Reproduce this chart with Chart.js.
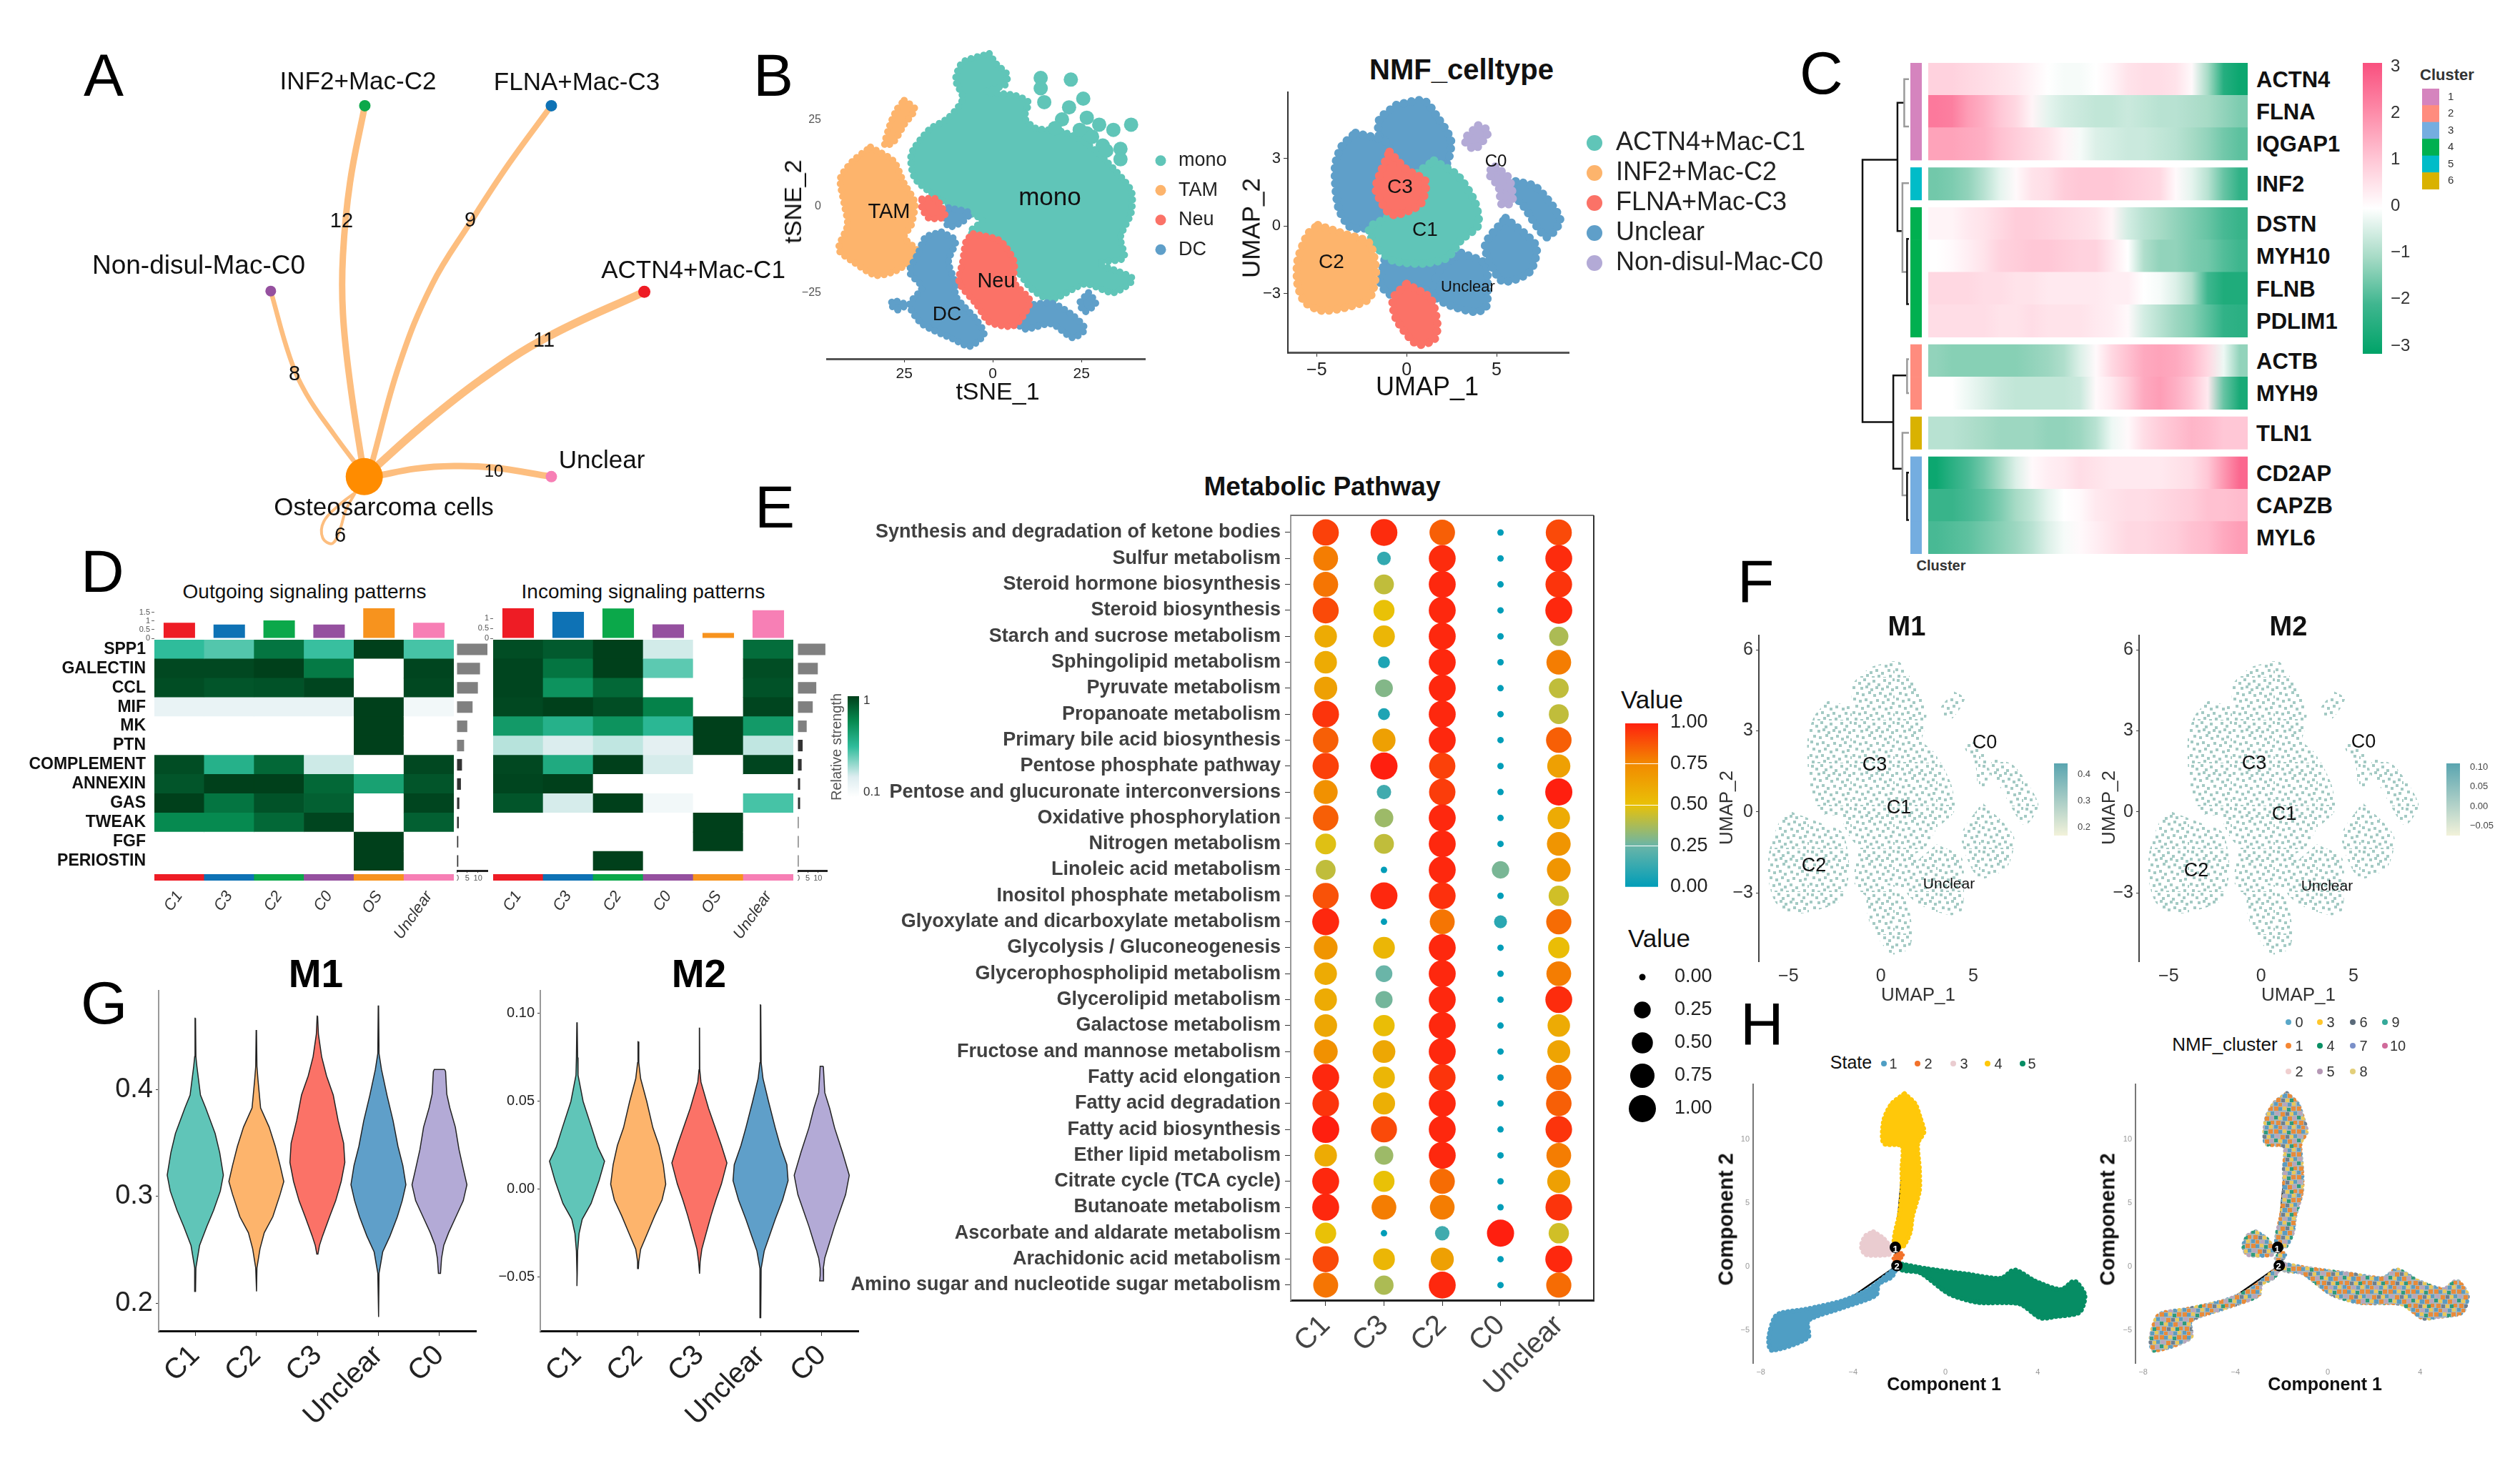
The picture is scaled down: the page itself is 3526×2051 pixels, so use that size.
<!DOCTYPE html>
<html>
<head>
<meta charset="utf-8">
<title>Macrophage panels</title>
<script src="https://cdn.jsdelivr.net/npm/chart.js@4/dist/chart.umd.min.js"></script>
<style>
html, body { margin: 0; background: #fff; }
#page { position: relative; width: 3526px; height: 2051px; overflow: hidden; background: #fff; }
</style>
</head>
<body>
<div id="page"></div>
<script>
// ---------- data : panel A (network layout units)
const nodeNames = ['Osteosarcoma cells', 'INF2+Mac-C2', 'FLNA+Mac-C3', 'Non-disul-Mac-C0', 'ACTN4+Mac-C1', 'Unclear'];
const nodeX = [666, 667, 1008, 495, 1178, 1008];
const nodeY = [1307, 290, 290, 798, 800, 1307];
const nodeSize = [26, 8, 8, 7.5, 8.5, 8];
const nodeColors = ['#FF8C00', '#0BA84A', '#0E72B5', '#95509F', '#EE1C25', '#F77FB5'];
const edgeCounts = [12, 9, 8, 11, 10, 6];
const edgeInf2X = [667, 640, 627, 627, 640, 666];
const edgeInf2Y = [290, 500, 700, 860, 1050, 1307];
const edgeFlnaX = [1008, 930, 860, 790, 730, 680];
const edgeFlnaY = [290, 450, 610, 780, 1000, 1270];
const edgeNonX = [495, 530, 560, 610, 660];
const edgeNonY = [798, 980, 1080, 1190, 1290];
const edgeActnX = [1178, 1000, 880, 770, 680];
const edgeActnY = [800, 925, 1040, 1170, 1290];
const edgeUnclearX = [1008, 900, 830, 760, 690];
const edgeUnclearY = [1307, 1282, 1278, 1285, 1305];
const edgeSelfX = [650, 632, 622, 608, 590, 592, 620, 650];
const edgeSelfY = [1350, 1400, 1450, 1490, 1475, 1430, 1385, 1350];

// ---------- data : panel B tSNE outlines
const monoX = [-1, 1, 4, 3.5, -2, 6, 10, 9, 12, 19.5, 26, 32, 39, 39, 36, 37, 30, 39.5, 34, 26, 16.5, 11, 6, -3, -6.5, -3, -10.5, -15, -22, -23, -18, -12.5, -8.5, -10.5, -8.5];
const monoY = [44, 41, 38, 35, 33, 32, 30, 25.5, 22.5, 21.5, 18.5, 13, 4.5, -2, -9, -15, -16.5, -21, -25, -22.5, -27, -24, -17.5, -9, -7.5, -4, -0.5, 2, 8, 15, 22, 25.5, 31, 36.5, 41.5];
const monoIslandX = [13.5, 22, 13.5, 14.5, 25.5, 21.5, 26.5, 30, 39, 34, 26.5, 31, 36, 36, 24.5, 19.5, 17.5, 28, 32];
const monoIslandY = [37, 36.5, 34, 30, 31, 28.5, 25.5, 23.5, 23.5, 22, 21, 17.5, 16.5, 13.5, 22, 25, 22.5, 20, 16];
const tamX = [-34.5, -28, -25, -22, -23, -25, -21, -27, -33, -39.5, -43.5, -41, -42, -43, -39.5];
const tamY = [17, 13, 6.5, 1, -5.5, -9, -13.5, -18.5, -20, -16, -12.5, -5.5, 1, 8, 13];
const tamLobeX = [-25, -22, -25, -28, -30.5, -29, -27];
const tamLobeY = [30.5, 28, 23.5, 18.5, 17.5, 23.5, 28];
const neuX = [-5.5, 2, 6, 6, 10.5, 6, -1, -4.5, -9.5, -8.5, -7.5];
const neuY = [-8, -10, -16, -22, -27.5, -34.5, -33.5, -28.5, -22, -16, -10];
const neuSmallX = [-20, -16, -13.5, -18, -20];
const neuSmallY = [2, 2, -3, -3.5, -0.5];
const dcMainX = [-14.5, -10.5, -12.5, -10.5, -10.5, -4.5, -2.5, -6.5, -11, -20, -23.5, -20, -23.5, -21, -19];
const dcMainY = [-7.5, -10, -16, -22.5, -26, -33, -37, -40.5, -38.5, -34, -28.5, -23.5, -19, -13.5, -9];
const dcRightX = [8, 16.5, 22.5, 26, 22.5, 16.5, 9, 6];
const dcRightY = [-29, -28, -31.5, -35.5, -38, -34, -35.5, -32.5];
const dcMidX = [-12.5, -6.5, -8.5, -12.5, -13.5];
const dcMidY = [-0.5, -2, -4.5, -6, -2];
const dcSmallX = [27, 29, 26, 24.5];
const dcSmallY = [-25, -28, -30.5, -28];
const dcLeftX = [-27, -24.5, -27, -29];
const dcLeftY = [-27.5, -28.5, -30, -28];
const tsneLegend = ['mono', 'TAM', 'Neu', 'DC'];

// ---------- data : UMAP outlines (panel B and F)
const umapTopX = [-0.57, 0.95, 1.7, 2.46, 2.2, 1.2, 0.2, -0.9, -1.5, -1.52];
const umapTopY = [5.37, 5.57, 4.85, 3.81, 2.7, 2.2, 2.4, 2.9, 3.81, 4.72];
const umapLeftX = [-2.84, -1.1, -0.9, -1.2, -0.9, -1.1, -3.03, -3.79, -3.98, -3.6];
const umapLeftY = [4.13, 3.7, 2.63, 1.85, 1.07, 0.16, -0.1, 0.81, 2.63, 3.55];
const umapC3X = [-0.95, 0, 1.05, 0.75, -0.85, -1.71, -1.52];
const umapC3Y = [3.29, 2.5, 1.98, 0.95, 0.5, 1.59, 2.24];
const umapC1X = [1.52, 2.84, 3.79, 3.98, 3.03, 2.27, 0.95, -0.76, -1.71, -2.08, -0.95, -0.2, 0.4];
const umapC1Y = [2.9, 2.24, 1.07, 0.03, -0.63, -1.41, -1.67, -1.54, -0.89, -0.1, 0.45, 1.4, 2.2];
const umapC2X = [-4.93, -3.41, -2.08, -1.71, -2.08, -3.41, -4.74, -5.69, -6.06, -6.06, -5.5];
const umapC2Y = [0.03, -0.37, -0.76, -2.06, -3.23, -3.63, -3.76, -3.36, -2.58, -1.54, -0.37];
const umapLowX = [-1.14, 0, 1.52, 2.2, 1.6, 0.2, -0.76, -1.45];
const umapLowY = [-1.2, -1.2, -1.4, -2.2, -2.9, -2.7, -3.1, -2.58];
const umapLowRX = [3.03, 4.36, 4.5, 4.4, 3.79, 2.27, 1.4, 1.9];
const umapLowRY = [-1.2, -1.67, -2.58, -3.63, -3.82, -3.49, -2.97, -1.9];
const umapArcX = [6.06, 7.2, 8.53, 7.77, 6.44, 5.87];
const umapArcY = [1.98, 1.72, 0.29, -0.5, 0.94, 1.46];
const umapMidRX = [5.5, 7.2, 6.82, 5.3, 4.36];
const umapMidRY = [0.35, -0.89, -2.06, -2.45, -0.89];
const umapC3LowX = [0, 1.33, 1.71, 1.52, 0.57, -0.57, -0.76];
const umapC3LowY = [-2.58, -3.23, -4.41, -5.06, -5.26, -4.15, -3.23];
const umapC0aX = [3.98, 4.55, 3.79, 3.22];
const umapC0aY = [4.46, 4.2, 3.42, 3.81];
const umapC0bX = [4.93, 5.69, 5.87, 5.3, 5.12, 4.55];
const umapC0bY = [2.63, 2.11, 1.07, 0.94, 1.72, 2.37];
const umapLegend = ['ACTN4+Mac-C1', 'INF2+Mac-C2', 'FLNA+Mac-C3', 'Unclear', 'Non-disul-Mac-C0'];

// ---------- data : panel C
const geneNames = ['ACTN4', 'FLNA', 'IQGAP1', 'INF2', 'DSTN', 'MYH10', 'FLNB', 'PDLIM1', 'ACTB', 'MYH9', 'TLN1', 'CD2AP', 'CAPZB', 'MYL6'];
const geneCluster = [1, 1, 1, 5, 4, 4, 4, 4, 2, 2, 6, 3, 3, 3];
const clusterOrder = [1, 5, 4, 2, 6, 3];
const exprACTN4 = [.8, .8, .7, .6, .5, .4, .2, 0, -.1, -.1, 0, .2, .5, .6, .6, .5, .1, -1, -2.4, -2.8];
const exprFLNA = [2.3, 2.2, 1.7, 1.4, 1, .7, .2, -.3, -.5, -.6, -.7, -.7, -.6, -.7, -.8, -.8, -.9, -1, -1.2, -1.4];
const exprIQGAP1 = [1.6, 1.6, 1.5, 1.4, 1.1, .9, .7, .5, .2, -.1, -.4, -.5, -.6, -.6, -.7, -.8, -1, -1.2, -1.5, -1.7];
const exprINF2 = [-1.5, -1.4, -1.2, -.8, -.3, .1, .5, .6, .9, 1, 1, 1, .9, .8, .7, .1, -.3, -.8, -1.6, -2.2];
const exprDSTN = [.2, .2, .4, .5, .7, .9, .9, .8, .7, .6, .5, .2, -.5, -.8, -1, -1.2, -1.4, -1.6, -1.9, -2.1];
const exprMYH10 = [0, .1, .3, .5, .8, .9, 1, 1, .9, .8, .8, .4, 0, -.9, -1.2, -1.2, -1.4, -1.5, -1.8, -2];
const exprFLNB = [.7, .7, .7, .6, .6, .5, .5, .4, .4, .4, .4, .3, .3, 0, -.1, -.4, -.9, -2, -2.5, -2.5];
const exprPDLIM1 = [.6, .6, .6, .6, .5, .5, .6, .5, .5, .5, .4, .3, .1, -.5, -.8, -1.1, -1.3, -1.7, -2.2, -2.3];
const exprACTB = [-1.2, -1.3, -1.3, -1.3, -1.3, -1.3, -1.2, -1.1, -.9, -.4, .1, .7, 1.1, 1.5, 1.6, 1.5, 1.2, .7, -.2, -1.2];
const exprMYH9 = [0, 0, -.2, -.4, -.6, -.7, -.7, -.7, -.7, -.6, .1, .4, .9, 1.5, 1.7, 1.4, 1, .4, -1.6, -2.6];
const exprTLN1 = [-.8, -.8, -.9, -1, -1.1, -1.1, -1.1, -1.2, -1.2, -1.1, -.8, -.2, .1, .6, .9, 1.1, 1.3, 1.2, 1, 1];
const exprCD2AP = [-2.8, -2.3, -1.9, -1.5, -1, -.4, .1, .3, .4, .6, .5, .4, .4, .4, .4, .5, .6, 1, 1.8, 2.6];
const exprCAPZB = [-2.1, -2.1, -1.9, -1.7, -1.4, -1, -.7, -.3, 0, .1, .4, .5, .6, .6, .7, .8, .9, 1.1, 1.1, 1.2];
const exprMYL6 = [-1.9, -1.8, -1.7, -1.5, -1.3, -1.1, -.8, -.4, -.1, .1, .3, .5, .7, .7, .8, .9, 1.1, 1.2, 1.5, 1.7];
// dendrogram merges, height and the two row heights they join
const treeH = [.89, .22, .3, .09, .125, .036, .036, .125, .036];
const treeTop = [2.99, 1.23, 9.64, .5, 3.71, 5.43, 9.14, 11.41, 12.64];
const treeBottom = [11.08, 5.19, 12.52, 1.96, 6.45, 7.44, 10.19, 13.34, 14.1];
const treeChildTop = [.22, .09, .036, 0, 0, 0, 0, 0, 0];
const treeChildBottom = [.3, .125, .125, 0, .036, 0, 0, .036, 0];

// ---------- data : panel D
const pathwayNames = ['SPP1', 'GALECTIN', 'CCL', 'MIF', 'MK', 'PTN', 'COMPLEMENT', 'ANNEXIN', 'GAS', 'TWEAK', 'FGF', 'PERIOSTIN'];
const senderNames = ['C1', 'C3', 'C2', 'C0', 'OS', 'Unclear'];
const outgoingC1 = [.5, .97, .95, .08, 0, 0, .95, .92, 1, .72, 0, 0];
const outgoingC3 = [.42, .97, .92, .08, 0, 0, .55, 1, .8, .72, 0, 0];
const outgoingC2 = [.8, 1, .93, .08, 0, 0, .85, 1, .93, .85, 0, 0];
const outgoingC0 = [.48, .78, .98, .08, 0, 0, .15, .85, .88, .98, 0, 0];
const outgoingOS = [1, 0, 0, 1, 1, 1, 0, .62, 0, 0, 1, 1];
const outgoingUnclear = [.45, .98, .97, .05, 0, 0, .97, .92, .98, .88, 0, 0];
const incomingC1 = [.95, .98, .98, .97, .65, .2, .97, .98, .92, 0, 0, 0];
const incomingC3 = [.9, .8, .68, 1, .55, .12, .58, 1, .13, 0, 0, 0];
const incomingC2 = [1, 1, .85, .95, .68, .18, 1, 0, 1, 0, 0, 1];
const incomingC0 = [.14, .4, 0, .75, .52, .1, .13, 0, .05, 0, 0, 0];
const incomingOS = [0, 0, 0, 0, 1, 1, 0, 0, 0, 1, 1, 0];
const incomingUnclear = [.83, .95, .93, .98, .65, .18, .98, 0, .45, 0, 0, 0];
const outgoingTotals = [.9, .8, 1.04, .8, 1.74, .9];
const incomingTotals = [1.5, 1.32, 1.49, .7, .27, 1.4];
const outgoingStrength = [58, 44, 40, 30, 20, 14, 10, 8, 5, 4, 3, 3];
const incomingStrength = [55, 40, 37, 30, 18, 10, 8, 5, 5, 2, 2, 2];

// ---------- data : panel E
const metabolicNames = ['Synthesis and degradation of ketone bodies', 'Sulfur metabolism', 'Steroid hormone biosynthesis', 'Steroid biosynthesis', 'Starch and sucrose metabolism', 'Sphingolipid metabolism', 'Pyruvate metabolism', 'Propanoate metabolism', 'Primary bile acid biosynthesis', 'Pentose phosphate pathway', 'Pentose and glucuronate interconversions', 'Oxidative phosphorylation', 'Nitrogen metabolism', 'Linoleic acid metabolism', 'Inositol phosphate metabolism', 'Glyoxylate and dicarboxylate metabolism', 'Glycolysis / Gluconeogenesis', 'Glycerophospholipid metabolism', 'Glycerolipid metabolism', 'Galactose metabolism', 'Fructose and mannose metabolism', 'Fatty acid elongation', 'Fatty acid degradation', 'Fatty acid biosynthesis', 'Ether lipid metabolism', 'Citrate cycle (TCA cycle)', 'Butanoate metabolism', 'Ascorbate and aldarate metabolism', 'Arachidonic acid metabolism', 'Amino sugar and nucleotide sugar metabolism'];
const metabolicGroups = ['C1', 'C3', 'C2', 'C0', 'Unclear'];
const metabC1 = [.92, .78, .8, .9, .6, .6, .65, .95, .85, .92, .72, .85, .48, .42, .88, .98, .7, .6, .6, .62, .72, .98, .95, 1, .6, .98, .98, .5, .9, .8];
const metabC3 = [.97, .12, .42, .5, .55, .07, .3, .07, .65, 1, .15, .35, .42, 0, .98, 0, .55, .25, .27, .52, .62, .55, .58, .9, .35, .5, .78, 0, .55, .38];
const metabC2 = [.85, .97, .98, .98, .98, .98, .98, .98, .98, .92, .93, .98, .98, .98, .96, .8, .98, .98, .98, .98, .98, .95, .98, .98, .98, .82, .78, .15, .65, .98];
const metabC0 = [0, 0, 0, 0, 0, 0, 0, 0, 0, 0, 0, 0, 0, .28, 0, .1, 0, 0, 0, 0, 0, 0, 0, 0, 0, 0, 0, 1, 0, 0];
const metabUnclear = [.9, .97, .95, .98, .38, .78, .42, .42, .85, .65, 1, .6, .7, .7, .45, .82, .52, .78, .97, .6, .63, .82, .85, .95, .78, .65, .95, .45, .98, .82];
const valueTicks = [0, .25, .5, .75, 1];
const valueLabels = ['0.00', '0.25', '0.50', '0.75', '1.00'];

// ---------- data : panel G violins (score, half width)
const violinNames = ['C1', 'C2', 'C3', 'Unclear', 'C0'];
const m1C1Y = [.467, .431, .422, .395, .383, .359, .341, .32, .305, .287, .272, .254, .233, .211];
const m1C1W = [.004, .01, .026, .085, .17, .325, .4, .46, .41, .3, .19, .07, .01, .004];
const m1C2Y = [.456, .422, .41, .383, .365, .347, .329, .314, .302, .281, .266, .251, .233, .211];
const m1C2W = [.003, .01, .026, .07, .21, .31, .39, .45, .39, .27, .13, .06, .01, .003];
const m1C3Y = [.469, .452, .431, .413, .395, .371, .35, .332, .314, .296, .281, .263, .254, .246];
const m1C3W = [.004, .017, .07, .15, .26, .34, .43, .45, .39, .3, .2, .085, .034, .009];
const m1UnclearY = [.479, .434, .419, .395, .371, .347, .329, .311, .296, .281, .263, .248, .228, .187];
const m1UnclearW = [.003, .01, .05, .14, .24, .32, .4, .45, .39, .31, .19, .07, .01, .003];
const m1C0Y = [.419, .417, .396, .383, .365, .344, .326, .311, .296, .281, .266, .254, .242, .228];
const m1C0W = [.085, .1, .12, .17, .26, .32, .39, .45, .39, .27, .15, .07, .034, .017];
const m2C1Y = [.095, .075, .065, .05, .035, .024, .016, .005, -.008, -.017, -.025, -.035, -.048, -.055];
const m2C1W = [.003, .01, .017, .1, .24, .34, .45, .36, .23, .085, .034, .01, .004, .003];
const m2C2Y = [.084, .072, .063, .05, .035, .025, .014, .003, -.006, -.015, -.025, -.034, -.041, -.045];
const m2C2W = [.003, .01, .04, .14, .24, .34, .41, .45, .39, .27, .15, .04, .01, .003];
const m2C3Y = [.092, .068, .061, .046, .035, .025, .015, .003, -.006, -.015, -.025, -.034, -.041, -.048];
const m2C3W = [.003, .006, .026, .15, .26, .36, .45, .36, .27, .19, .11, .04, .013, .003];
const m2UnclearY = [.105, .072, .063, .05, .035, .025, .014, .005, -.006, -.017, -.026, -.035, -.045, -.073];
const m2UnclearW = [.003, .01, .04, .13, .24, .32, .43, .45, .36, .24, .15, .06, .01, .003];
const m2C0Y = [.07, .055, .046, .035, .021, .008, -.003, -.012, -.021, -.03, -.039, -.045, -.049, -.052];
const m2C0W = [.026, .05, .13, .21, .34, .45, .39, .3, .21, .13, .05, .026, .026, .034];

// ---------- data : panel H trajectory outlines
const state4X = [-1.77, -1.31, -1.09, -.93, -1.2, -1.13, -1.13, -1.43, -1.54, -1.88, -2.22, -1.99, -1.88, -1.88, -1.88, -2.67, -2.67, -2.33];
const state4Y = [13.6, 12.8, 11.7, 10.6, 9.7, 7.7, 5.95, 3.95, 2.62, 1.51, 1.95, 4.17, 5.95, 7.7, 9.5, 9.7, 11.5, 12.8];
const state3X = [-3.12, -2.67, -2.33, -2.44, -3.46, -3.64, -3.46];
const state3Y = [2.73, 2.18, 1.29, .95, .95, 1.62, 2.4];
const state2X = [-2.04, -1.83, -2.1, -2.26];
const state2Y = [1.18, .95, .29, .62];
const state5X = [-1.88, -.86, .95, 2.42, 2.99, 3.89, 5.02, 5.59, 6.04, 5.81, 4.8, 4.12, 3.21, 1.4, .16, -1.09, -1.88];
const state5Y = [.18, -.16, -.6, -.93, -.27, -1.15, -1.82, -1.15, -2.26, -3.6, -3.93, -4.04, -2.93, -2.82, -2.15, -.49, -.27];
const state1X = [-2.1, -2.33, -2.9, -3.01, -4.48, -5.95, -5.95, -7.54, -7.65, -7.31, -6.06, -4.48, -3.35];
const state1Y = [-.04, -.82, -1.38, -2.26, -3.26, -4.26, -5.59, -6.59, -5.59, -3.82, -3.37, -2.71, -1.82];
const branchX = [-6.29, -4.03, -2.1, -2.17, -1.77];
const branchY = [-4.6, -2.38, .07, 1.51, 9.5];
const branchPointX = [-2.17, -2.1];
const branchPointY = [1.51, .07];

// ---------- helpers
const FONT = '"Liberation Sans", Arial, sans-serif';
const page = document.getElementById('page');
const cTeal = '#60C5B8', cOrange = '#FDB46C', cRed = '#FB7267', cBlue = '#5F9FC9', cLilac = '#B3AAD6';
const senderColors = ['#EE1C25', '#0E72B5', '#0BA84A', '#95509F', '#F7931E', '#F77FB5'];
const clusterColors = { 1: '#D584BE', 2: '#FF8C7E', 3: '#74ADE0', 4: '#00B050', 5: '#00BCC8', 6: '#D9B200' };
const heatStops = [[0, '#00A368'], [.17, '#3FB68F'], [.33, '#A5DAC5'], [.5, '#FFFFFF'], [.67, '#FFC6D5'], [.83, '#FD8CA9'], [1, '#F9507F']];
const greenStops = [[0, '#FFFFFF'], [.1, '#E4F0F2'], [.5, '#2FBC9B'], [.72, '#068A50'], [1, '#00401B']];
const valueStops = [[0, '#009DB8'], [.25, '#6AB5A8'], [.5, '#E9C107'], [.75, '#F28A00'], [1, '#FF1F0F']];

function hexRgb(h) { return [1, 3, 5].map(i => parseInt(h.substr(i, 2), 16)); }
function ramp(stops, t) {
    t = Math.max(0, Math.min(1, t));
    for (let i = 1; i < stops.length; i++) {
        if (t <= stops[i][0]) {
            const f = (t - stops[i - 1][0]) / (stops[i][0] - stops[i - 1][0]);
            const a = hexRgb(stops[i - 1][1]), b = hexRgb(stops[i][1]);
            return 'rgb(' + a.map((v, k) => Math.round(v + (b[k] - v) * f)).join(',') + ')';
        }
    }
    return stops[stops.length - 1][1];
}
function heatColor(v) { return ramp(heatStops, (v + 3) / 6); }

function txt(s, x, y, size, o = {}) {
    const d = document.createElement('div');
    d.textContent = s;
    const shift = o.left ? '0' : '-50%';
    d.style.cssText = `position:absolute;left:${x}px;top:${y}px;white-space:nowrap;line-height:1;` +
        `font-family:${FONT};font-size:${size}px;font-weight:${o.bold ? 'bold' : 'normal'};color:${o.color || '#111'};` +
        `transform:translate(${shift},-50%) rotate(${o.rot || 0}deg);`;
    page.appendChild(d);
}
function keyDot(x, y, r, color) {
    const d = document.createElement('div');
    d.style.cssText = `position:absolute;left:${x - r}px;top:${y - r}px;width:${2 * r}px;height:${2 * r}px;border-radius:50%;background:${color}`;
    page.appendChild(d);
}

// plot area is x,y,w,h ; m holds the room kept around it for the axes
function plot(x, y, w, h, m, config) {
    const cv = document.createElement('canvas');
    cv.width = w + m.l + m.r;
    cv.height = h + m.t + m.b;
    cv.style.cssText = `position:absolute;left:${x - m.l}px;top:${y - m.t}px;`;
    page.appendChild(cv);
    const pad = { left: m.l, right: m.r, top: m.t, bottom: m.b };
    const scales = config.options.scales;
    // no room may be taken for half a tick label, the plot stays where it was put
    const flat = a => { a.paddingLeft = a.paddingRight = a.paddingTop = a.paddingBottom = 0; };
    Object.keys(scales).forEach(id => {
        const s = scales[id];
        if (s.display === false) return;
        const pos = s.position || (id === 'x' ? 'bottom' : 'left');
        if (pos === 'left') { pad.left = 0; s.afterFit = a => { a.width = m.l; flat(a); }; }
        if (pos === 'right') { pad.right = 0; s.afterFit = a => { a.width = m.r; flat(a); }; }
        if (pos === 'bottom') { pad.bottom = 0; s.afterFit = a => { a.height = m.b; flat(a); }; }
    });
    Object.assign(config.options, {
        responsive: false, animation: false, devicePixelRatio: 1, events: [],
        layout: { padding: pad, autoPadding: false },
    });
    config.options.plugins = { legend: { display: false }, tooltip: { enabled: false } };
    // first listed is painted first
    config.data.datasets.forEach((d, i) => { d.order = -i; });
    return new Chart(cv.getContext('2d'), config);
}

function numAxis(min, max, vals, labels, o = {}) {
    return {
        type: 'linear', min, max, position: o.pos, reverse: o.rev,
        afterBuildTicks: s => { s.ticks = vals.map(v => ({ value: v })); },
        ticks: {
            autoSkip: false, padding: o.pad === undefined ? 4 : o.pad, color: o.color || '#222',
            font: { family: FONT, size: o.size || 20, weight: o.weight || 'normal' },
            minRotation: o.rot || 0, maxRotation: o.rot || 0, callback: (v, i) => labels[i],
        },
        grid: {
            drawOnChartArea: !!o.inside, z: o.inside ? 1 : 0, color: o.inside || undefined, drawTicks: o.tick !== 0,
            tickLength: o.tick === undefined ? 6 : o.tick, tickColor: o.tickColor || '#333',
        },
        border: { display: o.line !== false, color: o.lineColor || '#333', width: o.lineWidth || 2 },
    };
}
const hidden = (min, max, rev) => ({ type: 'linear', display: false, min, max, reverse: !!rev });

function pts(xs, ys) { return xs.map((x, i) => ({ x, y: ys[i] })); }
// outline filled ; the dotted round border gives the grainy edge of a cell cloud
function blob(xs, ys, color, bump = 10) {
    const data = pts(xs, ys);
    data.push(data[0]);
    return {
        type: 'scatter', data, showLine: true, fill: 'shape', backgroundColor: color,
        borderColor: color, borderWidth: bump, borderDash: [.01, bump * .9], borderCapStyle: 'round',
        pointRadius: 0, tension: .25, clip: false,
    };
}
function edge(xs, ys, width, color) {
    return { type: 'scatter', data: pts(xs, ys), showLine: true, fill: false, borderColor: color || '#FDBE7F', borderWidth: width, pointRadius: 0, tension: .4 };
}
function dots(xs, ys, r, color) {
    return { type: 'scatter', data: pts(xs, ys), pointRadius: r, pointBackgroundColor: color, pointBorderWidth: 0 };
}
function violin(i, ys, ws, color) {
    const right = ys.map((y, k) => ({ x: i + ws[k], y }));
    const left = ys.map((y, k) => ({ x: i - ws[k], y })).reverse();
    return {
        type: 'scatter', data: [...right, ...left, right[0]], showLine: true, fill: 'shape',
        backgroundColor: color, borderColor: '#222', borderWidth: 1.5, pointRadius: 0, tension: 0,
    };
}
function tile(size, bg, marks) {
    const c = document.createElement('canvas');
    c.width = c.height = size;
    const g = c.getContext('2d');
    if (bg) { g.fillStyle = bg; g.fillRect(0, 0, size, size); }
    marks.forEach(k => { g.fillStyle = k[2]; g.fillRect(k[0], k[1], k[3], k[3]); });
    return g.createPattern(c, 'repeat');
}

// vertical gradient bar with its scale on the right
function colorBar(x, y, w, h, mr, min, max, stops, axis) {
    plot(x, y, w, h, { l: 0, r: mr, t: 14, b: 14 }, {
        type: 'bar',
        data: {
            labels: [''],
            datasets: [{
                data: [[min, max]], barPercentage: 1, categoryPercentage: 1, borderWidth: 0,
                backgroundColor: c => {
                    const a = c.chart.chartArea;
                    if (!a) return '#fff';
                    const g = c.chart.ctx.createLinearGradient(0, a.bottom, 0, a.top);
                    stops.forEach(s => g.addColorStop(s[0], s[1]));
                    return g;
                },
            }],
        },
        options: { scales: { x: { display: false }, y: axis } },
    });
}
// column of dots with names on a right-hand category scale
function dotLegend(x, y, w, h, mr, names, colors, radius, size, pad) {
    plot(x, y, w, h, { l: 0, r: mr, t: 0, b: 0 }, {
        type: 'scatter',
        data: { datasets: [{ data: names.map(n => ({ x: 0, y: n })), pointRadius: radius, pointBackgroundColor: colors, pointBorderWidth: 0, clip: false }] },
        options: {
            scales: {
                x: hidden(-1, 1),
                y: {
                    type: 'category', labels: names, position: 'right', offset: true,
                    grid: { display: false }, border: { display: false },
                    ticks: { padding: pad, autoSkip: false, color: '#222', font: { family: FONT, size } },
                },
            },
        },
    });
}

// ---------- panel letters
[['A', 117, 105], ['B', 1054, 105], ['C', 2518, 102], ['D', 113, 799], ['E', 1056, 709], ['F', 2431, 813], ['G', 113, 1403], ['H', 2435, 1433]]
    .forEach(l => txt(l[0], l[1], l[2], 84, { left: true, color: '#000' }));

// ---------- panel A
plot(0, 0, 1200, 800, { l: 0, r: 0, t: 0, b: 0 }, {
    type: 'scatter',
    data: {
        datasets: [
            edge(edgeSelfX, edgeSelfY, 4),
            edge(edgeInf2X, edgeInf2Y, 9),
            edge(edgeFlnaX, edgeFlnaY, 8),
            edge(edgeNonX, edgeNonY, 6.5),
            edge(edgeActnX, edgeActnY, 11),
            edge(edgeUnclearX, edgeUnclearY, 9),
            { data: pts(nodeX, nodeY), pointRadius: nodeSize, pointBackgroundColor: nodeColors, pointBorderWidth: 0 },
        ],
    },
    options: { scales: { x: hidden(0, 1568), y: hidden(0, 1568, true) } },
});
txt(nodeNames[1], 501, 112, 35);
txt(nodeNames[2], 807, 113, 35);
txt(nodeNames[3], 278, 370, 37);
txt(nodeNames[4], 970, 376, 35);
txt(nodeNames[5], 842, 642, 35);
txt(nodeNames[0], 537, 708, 35);
[[478, 308, 29], [658, 307, 29], [412, 522, 29], [761, 475, 29], [691, 659, 24], [476, 748, 29]]
    .forEach((p, i) => txt(String(edgeCounts[i]), p[0], p[1], p[2]));

// ---------- panel B : tSNE
plot(1157, 60, 446, 442, { l: 50, r: 0, t: 0, b: 36 }, {
    type: 'scatter',
    data: {
        datasets: [
            blob(monoX, monoY, cTeal),
            dots(monoIslandX, monoIslandY, 10, cTeal),
            blob(tamX, tamY, cOrange),
            blob(tamLobeX, tamLobeY, cOrange),
            blob(dcMainX, dcMainY, cBlue),
            blob(dcRightX, dcRightY, cBlue),
            blob(dcMidX, dcMidY, cBlue),
            blob(dcSmallX, dcSmallY, cBlue),
            blob(dcLeftX, dcLeftY, cBlue),
            blob(neuX, neuY, cRed),
            blob(neuSmallX, neuSmallY, cRed),
        ],
    },
    options: {
        scales: {
            x: numAxis(-46.8, 43.1, [-25, 0, 25], ['25', '0', '25'], { size: 21, lineColor: '#555', lineWidth: 3, tick: 5 }),
            y: numAxis(-44.1, 47.1, [-25, 0, 25], ['\u221225', '0', '25'], { size: 16, line: false, tick: 0, pad: 8, color: '#555' }),
        },
    },
});
txt('mono', 1469, 274, 35);
txt('TAM', 1244, 295, 29);
txt('Neu', 1394, 392, 29);
txt('DC', 1325, 439, 28);
dotLegend(1612, 204, 24, 166, 90, tsneLegend, [cTeal, cOrange, cRed, cBlue], 7.5, 27, 5);
txt('tSNE_1', 1396, 547, 34);
txt('tSNE_2', 1109, 282, 34, { rot: -90 });

// ---------- panel B : UMAP
function umapBlobs(cc, bump) {
    return [
        blob(umapTopX, umapTopY, cc.u, bump),
        blob(umapLeftX, umapLeftY, cc.u, bump),
        blob(umapLowX, umapLowY, cc.u, bump),
        blob(umapLowRX, umapLowRY, cc.u, bump),
        blob(umapArcX, umapArcY, cc.u, bump),
        blob(umapMidRX, umapMidRY, cc.u, bump),
        blob(umapC1X, umapC1Y, cc.c1, bump),
        blob(umapC3X, umapC3Y, cc.c3, bump),
        blob(umapC3LowX, umapC3LowY, cc.c3, bump),
        blob(umapC2X, umapC2Y, cc.c2, bump),
        blob(umapC0aX, umapC0aY, cc.c0, bump),
        blob(umapC0bX, umapC0bY, cc.c0, bump),
    ];
}
plot(1802, 128, 394, 365, { l: 50, r: 0, t: 0, b: 36 }, {
    type: 'scatter',
    data: { datasets: umapBlobs({ u: cBlue, c1: cTeal, c3: cRed, c2: cOrange, c0: cLilac }, 12) },
    options: {
        scales: {
            x: numAxis(-6.6, 9.05, [-5, 0, 5], ['\u22125', '0', '5'], { size: 25, lineColor: '#555', lineWidth: 3 }),
            y: numAxis(-5.62, 5.97, [-3, 0, 3], ['\u22123', '0', '3'], { size: 22, lineColor: '#333', lineWidth: 2 }),
        },
    },
});
txt('NMF_celltype', 2045, 97, 40, { bold: true });
txt('C3', 1959, 261, 28);
txt('C1', 1994, 321, 28);
txt('C2', 1863, 366, 28);
txt('C0', 2093, 225, 24);
txt('Unclear', 2054, 401, 22);
dotLegend(2217, 179, 28, 210, 320, umapLegend, [cTeal, cOrange, cRed, cBlue, cLilac], 11, 36, 8);
txt('UMAP_1', 1997, 541, 36);
txt('UMAP_2', 1750, 319, 35, { rot: -90 });

// ---------- panel C
const geneExpr = [exprACTN4, exprFLNA, exprIQGAP1, exprINF2, exprDSTN, exprMYH10, exprFLNB, exprPDLIM1, exprACTB, exprMYH9, exprTLN1, exprCD2AP, exprCAPZB, exprMYL6];
const rowTop = geneNames.map((g, i) => i + .23 * clusterOrder.indexOf(geneCluster[i]));
const rowTotal = rowTop[rowTop.length - 1] + 1;
function rowBar(i, color) {
    return { data: [[rowTop[i], rowTop[i] + 1]], backgroundColor: color, barPercentage: 1, categoryPercentage: 1, borderWidth: 0, grouped: false };
}
plot(2698, 88, 447, 687, { l: 0, r: 0, t: 0, b: 0 }, {
    type: 'bar',
    data: {
        labels: ['genes'],
        datasets: geneExpr.map((vals, i) => rowBar(i, c => {
            const a = c.chart.chartArea;
            if (!a) return '#fff';
            const g = c.chart.ctx.createLinearGradient(a.left, 0, a.right, 0);
            vals.forEach((v, k) => g.addColorStop((k + .5) / vals.length, heatColor(v)));
            return g;
        })),
    },
    options: { scales: { x: { display: false }, y: hidden(0, rowTotal, true) } },
});
plot(2673, 88, 16, 687, { l: 0, r: 0, t: 0, b: 0 }, {
    type: 'bar',
    data: { labels: ['cluster'], datasets: geneNames.map((g, i) => rowBar(i, clusterColors[geneCluster[i]])) },
    options: { scales: { x: { display: false }, y: hidden(0, rowTotal, true) } },
});
plot(2598, 88, 73, 687, { l: 0, r: 0, t: 0, b: 0 }, {
    type: 'scatter',
    data: {
        datasets: treeH.map((h, i) => ({
            data: [{ x: treeChildTop[i], y: treeTop[i] }, { x: h, y: treeTop[i] }, { x: h, y: treeBottom[i] }, { x: treeChildBottom[i], y: treeBottom[i] }],
            showLine: true, fill: false, pointRadius: 0, tension: 0, borderWidth: 2.5,
            borderColor: (i > 2 && i !== 5 && i !== 8) ? '#9a9a9a' : '#111',
        })),
    },
    options: { scales: { x: hidden(0, 1, true), y: hidden(0, rowTotal, true) } },
});
geneNames.forEach((g, i) => {
    txt(g, 3157, 88 + (rowTop[i] + .5) * 687 / rowTotal, 31, { left: true, bold: true });
});
txt('Cluster', 2716, 791, 20, { bold: true, color: '#333' });
colorBar(3306, 88, 27, 407, 40, -3.17, 3.08, heatStops,
    numAxis(-3.17, 3.08, [-3, -2, -1, 0, 1, 2, 3], ['\u22123', '\u22122', '\u22121', '0', '1', '2', '3'], { pos: 'right', size: 24, line: false, tick: 0, pad: 12, color: '#333' }));
txt('Cluster', 3424, 105, 22, { bold: true, color: '#333' });
plot(3389, 124, 24, 141, { l: 0, r: 20, t: 0, b: 0 }, {
    type: 'bar',
    data: {
        labels: ['1', '2', '3', '4', '5', '6'],
        datasets: [{ data: [1, 1, 1, 1, 1, 1], backgroundColor: [1, 2, 3, 4, 5, 6].map(k => clusterColors[k]), barPercentage: 1, categoryPercentage: 1, borderWidth: 0 }],
    },
    options: {
        indexAxis: 'y',
        scales: {
            x: hidden(0, 1),
            y: { position: 'right', grid: { display: false }, border: { display: false }, ticks: { padding: 4, color: '#333', font: { family: FONT, size: 15 } } },
        },
    },
});

// ---------- panel D
function signalHeat(x, y, w, h, ml, cols, showNames) {
    plot(x, y, w, h, { l: ml, r: 0, t: 0, b: 0 }, {
        type: 'bar',
        data: {
            labels: pathwayNames,
            datasets: cols.map((vals, j) => ({
                data: vals.map(() => [j, j + 1]), backgroundColor: vals.map(v => ramp(greenStops, v)),
                barPercentage: 1, categoryPercentage: 1, borderWidth: 0, grouped: false,
            })),
        },
        options: {
            indexAxis: 'y',
            scales: {
                x: hidden(0, 6),
                y: showNames ? {
                    grid: { display: false }, border: { display: false },
                    ticks: { autoSkip: false, padding: 4, color: '#111', font: { family: FONT, size: 23, weight: 'bold' } },
                } : { display: false },
            },
        },
    });
}
function topBars(x, y, w, h, max, vals, tickVals, tickLabels) {
    plot(x, y, w, h, { l: 36, r: 0, t: 6, b: 6 }, {
        type: 'bar',
        data: { labels: senderNames, datasets: [{ data: vals, backgroundColor: senderColors, barPercentage: 1, categoryPercentage: .63, borderWidth: 0 }] },
        options: {
            scales: {
                x: { display: false },
                y: numAxis(0, max, tickVals, tickLabels, { size: 11, pad: 2, tick: 4, lineColor: '#fff', lineWidth: 1, tickColor: '#666', color: '#555' }),
            },
        },
    });
}
function sideBars(x, y, w, h, max, vals) {
    plot(x, y, w, h, { l: 0, r: 6, t: 0, b: 22 }, {
        type: 'bar',
        data: {
            labels: pathwayNames,
            datasets: [{ data: vals, backgroundColor: vals.map(v => v <= 10 ? '#333' : '#808080'), barPercentage: 1, categoryPercentage: .6, borderWidth: 0 }],
        },
        options: {
            indexAxis: 'y',
            scales: {
                x: numAxis(0, max, [0, 20, 40], ['0', '5', '10'], { size: 11, pad: 1, tick: 3, lineColor: '#222', lineWidth: 3, color: '#555' }),
                y: { display: false },
            },
        },
    });
}
function senderStrip(x, y, w, h) {
    plot(x, y, w, h, { l: 0, r: 0, t: 0, b: 90 }, {
        type: 'bar',
        data: { labels: senderNames, datasets: [{ data: [1, 1, 1, 1, 1, 1], backgroundColor: senderColors, barPercentage: 1, categoryPercentage: 1, borderWidth: 0 }] },
        options: {
            scales: {
                x: {
                    grid: { display: false }, border: { display: false },
                    ticks: { autoSkip: false, minRotation: 55, maxRotation: 55, padding: 2, color: '#333', font: { family: FONT, size: 22, style: 'italic' } },
                },
                y: hidden(0, 1),
            },
        },
    });
}
signalHeat(216, 895, 419, 323, 220, [outgoingC1, outgoingC3, outgoingC2, outgoingC0, outgoingOS, outgoingUnclear], true);
signalHeat(690, 895, 420, 323, 0, [incomingC1, incomingC3, incomingC2, incomingC0, incomingOS, incomingUnclear], false);
topBars(216, 851, 419, 42, 1.74, outgoingTotals, [0, .5, 1, 1.5], ['0', '0.5', '1', '1.5']);
topBars(690, 851, 420, 42, 1.5, incomingTotals, [0, .5, 1], ['0', '0.5', '1']);
sideBars(639, 895, 43, 323, 58, outgoingStrength);
sideBars(1116, 895, 41, 323, 58, incomingStrength);
senderStrip(216, 1223, 419, 9);
senderStrip(690, 1223, 420, 9);
txt('Outgoing signaling patterns', 426, 828, 28);
txt('Incoming signaling patterns', 900, 828, 28);
colorBar(1186, 974, 16, 141, 30, .1, 1, [[0, '#FFFFFF'], [.2, '#DDEDF0'], [.5, '#2FBC9B'], [.75, '#068A50'], [1, '#00401B']],
    numAxis(.1, 1, [.14, .96], ['0.1', '1'], { pos: 'right', size: 17, line: false, tick: 0, pad: 6, color: '#333' }));
txt('Relative strength', 1170, 1045, 20, { rot: -90, color: '#555' });

// ---------- panel E
const metabSeries = [metabC1, metabC3, metabC2, metabC0, metabUnclear];
const dotRadius = v => 4.5 + 14.5 * Math.sqrt(v);
const metabPoints = [];
metabSeries.forEach((vals, col) => vals.forEach((v, row) => metabPoints.push({ x: col, y: row, v })));
plot(1806, 721, 424, 1098, { l: 640, r: 2, t: 2, b: 140 }, {
    type: 'scatter',
    data: {
        datasets: [{
            data: metabPoints,
            pointRadius: metabPoints.map(p => dotRadius(p.v)),
            pointBackgroundColor: metabPoints.map(p => ramp(valueStops, p.v)),
            pointBorderWidth: 0,
        }],
    },
    options: {
        scales: {
            x: numAxis(-.6, 4.6, [0, 1, 2, 3, 4], metabolicGroups, { size: 40, rot: 45, color: '#444', lineColor: '#222', lineWidth: 3, tick: 8 }),
            y: numAxis(-.66, 29.58, metabolicNames.map((n, i) => i), metabolicNames, { rev: true, size: 27, weight: 'bold', color: '#404040', lineColor: '#999', lineWidth: 2, tick: 8, pad: 6 }),
        },
    },
    plugins: [{
        id: 'frame',
        afterDraw(ch) {
            const a = ch.chartArea, g = ch.ctx;
            g.save();
            g.strokeStyle = '#777';
            g.lineWidth = 2;
            g.beginPath();
            g.moveTo(a.left, a.top); g.lineTo(a.right, a.top);
            g.stroke();
            g.strokeStyle = '#333';
            g.beginPath();
            g.moveTo(a.right, a.top); g.lineTo(a.right, a.bottom);
            g.stroke();
            g.restore();
        },
    }],
});
txt('Metabolic Pathway', 1850, 680, 37, { bold: true });
txt('Value', 2268, 978, 35, { left: true });
colorBar(2274, 1011, 46, 230, 90, 0, 1, valueStops,
    numAxis(0, 1, valueTicks, valueLabels, { pos: 'right', size: 27, line: false, tick: 0, pad: 17, inside: '#fff', color: '#222' }));
txt('Value', 2278, 1312, 35, { left: true });
dotLegend(2275, 1344, 46, 230, 90, ['0.00', '0.25', '0.50', '0.75', '1.00'], '#000', valueTicks.map(dotRadius), 27, 14);

// ---------- panel F
const speckleDots = [[3, 2], [9, 6], [16, 1], [22, 7], [29, 3], [36, 8], [44, 2], [51, 6], [57, 1], [1, 12], [12, 13], [19, 11], [26, 15], [33, 12], [41, 14], [48, 11], [55, 15], [6, 20], [14, 22], [23, 19], [30, 23], [38, 20], [45, 24], [52, 21], [58, 25], [2, 28], [10, 31], [18, 29], [25, 33], [34, 30], [42, 33], [49, 29], [56, 34], [5, 38], [13, 41], [21, 38], [29, 42], [37, 39], [46, 42], [53, 40], [1, 47], [9, 49], [17, 47], [25, 51], [33, 48], [41, 52], [50, 48], [58, 50], [4, 56], [12, 58], [20, 55], [28, 58], [36, 56], [44, 59], [52, 56]];
const speckle = tile(60, null, speckleDots.map(d => [d[0], d[1], '#A4CAC4', 4]));
function scorePanel(x) {
    plot(x, 888, 411, 457, { l: 50, r: 0, t: 0, b: 34 }, {
        type: 'scatter',
        data: { datasets: umapBlobs({ u: speckle, c1: speckle, c3: speckle, c2: speckle, c0: speckle }, 0) },
        options: {
            scales: {
                x: numAxis(-6.6, 9.3, [-5, 0, 5], ['\u22125', '0', '5'], { size: 25, line: false, tick: 0, pad: 6, color: '#333' }),
                y: numAxis(-5.53, 6.56, [-3, 0, 3, 6], ['\u22123', '0', '3', '6'], { size: 25, lineColor: '#444', lineWidth: 2, tick: 4, color: '#333' }),
            },
        },
    });
}
scorePanel(2461);
scorePanel(2993);
txt('M1', 2668, 876, 38, { bold: true });
txt('M2', 3202, 876, 38, { bold: true });
txt('C3', 2623, 1069, 27); txt('C1', 2657, 1129, 27); txt('C2', 2538, 1210, 27); txt('C0', 2777, 1038, 27); txt('Unclear', 2727, 1235, 21);
txt('C3', 3154, 1067, 27); txt('C1', 3196, 1138, 27); txt('C2', 3073, 1217, 27); txt('C0', 3307, 1037, 27); txt('Unclear', 3256, 1238, 21);
txt('UMAP_2', 2415, 1130, 26, { rot: -90, color: '#333' });
txt('UMAP_2', 2950, 1130, 26, { rot: -90, color: '#333' });
txt('UMAP_1', 2684, 1391, 26, { color: '#333' });
txt('UMAP_1', 3216, 1391, 26, { color: '#333' });
const scoreStops = [[0, '#F2F2DA'], [1, '#5AA5B0']];
colorBar(2874, 1068, 19, 101, 40, .17, .44, scoreStops,
    numAxis(.17, .44, [.2, .3, .4], ['0.2', '0.3', '0.4'], { pos: 'right', size: 13, line: false, tick: 0, pad: 14, color: '#444' }));
colorBar(3423, 1068, 19, 101, 62, -.075, .11, scoreStops,
    numAxis(-.075, .11, [-.05, 0, .05, .1], ['\u22120.05', '0.00', '0.05', '0.10'], { pos: 'right', size: 13, line: false, tick: 0, pad: 14, color: '#444' }));

// ---------- panel G
function violinPanel(x, w, title, titleX, series, yMin, yMax, tickVals, tickLabels, tickSize) {
    const colors = [cTeal, cOrange, cRed, cBlue, cLilac];
    plot(x, 1385, w, 477, { l: 70, r: 0, t: 0, b: 150 }, {
        type: 'scatter',
        data: { datasets: series.map((s, i) => violin(i, s[0], s[1], colors[i])) },
        options: {
            scales: {
                x: numAxis(-.6, 4.61, [0, 1, 2, 3, 4], violinNames, { size: 40, rot: 45, lineColor: '#111', lineWidth: 3, tick: 7, color: '#222' }),
                y: numAxis(yMin, yMax, tickVals, tickLabels, { size: tickSize, lineColor: '#999', lineWidth: 2, tick: 4, color: '#222' }),
            },
        },
    });
    txt(title, titleX, 1362, 55, { bold: true, color: '#000' });
}
violinPanel(222, 445, 'M1', 442, [[m1C1Y, m1C1W], [m1C2Y, m1C2W], [m1C3Y, m1C3W], [m1UnclearY, m1UnclearW], [m1C0Y, m1C0W]],
    .174, .4935, [.2, .3, .4], ['0.2', '0.3', '0.4'], 38);
violinPanel(756, 446, 'M2', 978, [[m2C1Y, m2C1W], [m2C2Y, m2C2W], [m2C3Y, m2C3W], [m2UnclearY, m2UnclearW], [m2C0Y, m2C0W]],
    -.0805, .1134, [-.05, 0, .05, .1], ['\u22120.05', '0.00', '0.05', '0.10'], 20);

// ---------- panel H
const clusterMix = tile(32, '#A9B6BC', [
    [0, 0, '#E88B3A', 6], [6, 1, '#5B9CC0', 5], [12, 0, '#E9C85A', 5], [18, 2, '#2E9C7C', 5], [24, 0, '#E88B3A', 6],
    [2, 7, '#B9A4BC', 5], [9, 8, '#E88B3A', 6], [16, 8, '#6E7F8F', 5], [22, 8, '#E9C85A', 5], [27, 7, '#5B9CC0', 5],
    [0, 13, '#2E9C7C', 5], [6, 14, '#E9C85A', 5], [12, 14, '#5B9CC0', 6], [19, 14, '#E88B3A', 6], [26, 14, '#B9A4BC', 5],
    [3, 20, '#E88B3A', 6], [10, 21, '#6E7F8F', 5], [16, 21, '#E9C85A', 5], [22, 21, '#2E9C7C', 5], [27, 20, '#E88B3A', 5],
    [0, 26, '#5B9CC0', 5], [6, 27, '#E88B3A', 5], [13, 27, '#B9A4BC', 5], [19, 27, '#5B9CC0', 5], [25, 26, '#E9C85A', 5],
]);
function trajectory(x, colors) {
    plot(x, 1516, 477, 391, { l: 30, r: 0, t: 0, b: 24 }, {
        type: 'scatter',
        data: {
            datasets: [
                { data: pts(branchX, branchY), showLine: true, fill: false, borderColor: '#000', borderWidth: 2.5, pointRadius: 0, tension: 0 },
                blob(state1X, state1Y, colors[0], 7),
                blob(state5X, state5Y, colors[4], 7),
                blob(state3X, state3Y, colors[2], 7),
                blob(state4X, state4Y, colors[3], 7),
                blob(state2X, state2Y, colors[1], 5),
                dots(branchPointX, branchPointY, 8, '#000'),
            ],
        },
        options: {
            scales: {
                x: numAxis(-8.33, 6.44, [-8, -4, 0, 4], ['\u22128', '\u22124', '0', '4'], { size: 11, line: false, tick: 0, pad: 6, color: '#999' }),
                y: numAxis(-7.6, 14.4, [-5, 0, 5, 10], ['\u22125', '0', '5', '10'], { size: 11, lineColor: '#777', lineWidth: 2, tick: 0, pad: 5, color: '#999' }),
            },
        },
    });
}
trajectory(2453, ['#4F9EC4', '#F2722B', '#EACCD0', '#FFC80A', '#068D64']);
trajectory(2988, [clusterMix, clusterMix, clusterMix, clusterMix, clusterMix]);
txt('1', 2652, 1747, 13, { bold: true, color: '#fff' });
txt('2', 2654, 1771, 13, { bold: true, color: '#fff' });
txt('1', 3186, 1747, 13, { bold: true, color: '#fff' });
txt('2', 3188, 1771, 13, { bold: true, color: '#fff' });
txt('Component 2', 2415, 1706, 29, { rot: -90, bold: true });
txt('Component 2', 2949, 1706, 29, { rot: -90, bold: true });
txt('Component 1', 2720, 1936, 25, { bold: true });
txt('Component 1', 3253, 1936, 25, { bold: true });
txt('State', 2590, 1486, 25);
[[2636, 2649, '1', '#4F9EC4'], [2683, 2698, '2', '#F2722B'], [2733, 2748, '3', '#EACCD0'], [2781, 2796, '4', '#FFC80A'], [2830, 2843, '5', '#068D64']]
    .forEach(k => { keyDot(k[0], 1488, 4, k[3]); txt(k[2], k[1], 1488, 20, { color: '#333' }); });
txt('NMF_cluster', 3113, 1461, 26);
[[3202, 3217, 1430, '0', '#5AA7C8'], [3202, 3217, 1463, '1', '#F58733'], [3202, 3217, 1499, '2', '#F0CFCF'],
 [3246, 3261, 1430, '3', '#FFC72C'], [3246, 3261, 1463, '4', '#0A8F64'], [3246, 3261, 1499, '5', '#B598B5'],
 [3292, 3307, 1430, '6', '#5A6A7A'], [3292, 3307, 1463, '7', '#7A8FC8'], [3292, 3307, 1499, '8', '#E3CF7A'],
 [3337, 3352, 1430, '9', '#35A99A'], [3337, 3355, 1463, '10', '#D06A9A']]
    .forEach(k => { keyDot(k[0], k[2], 4, k[4]); txt(k[3], k[1], k[2], 20, { color: '#333' }); });
</script>
</body>
</html>
